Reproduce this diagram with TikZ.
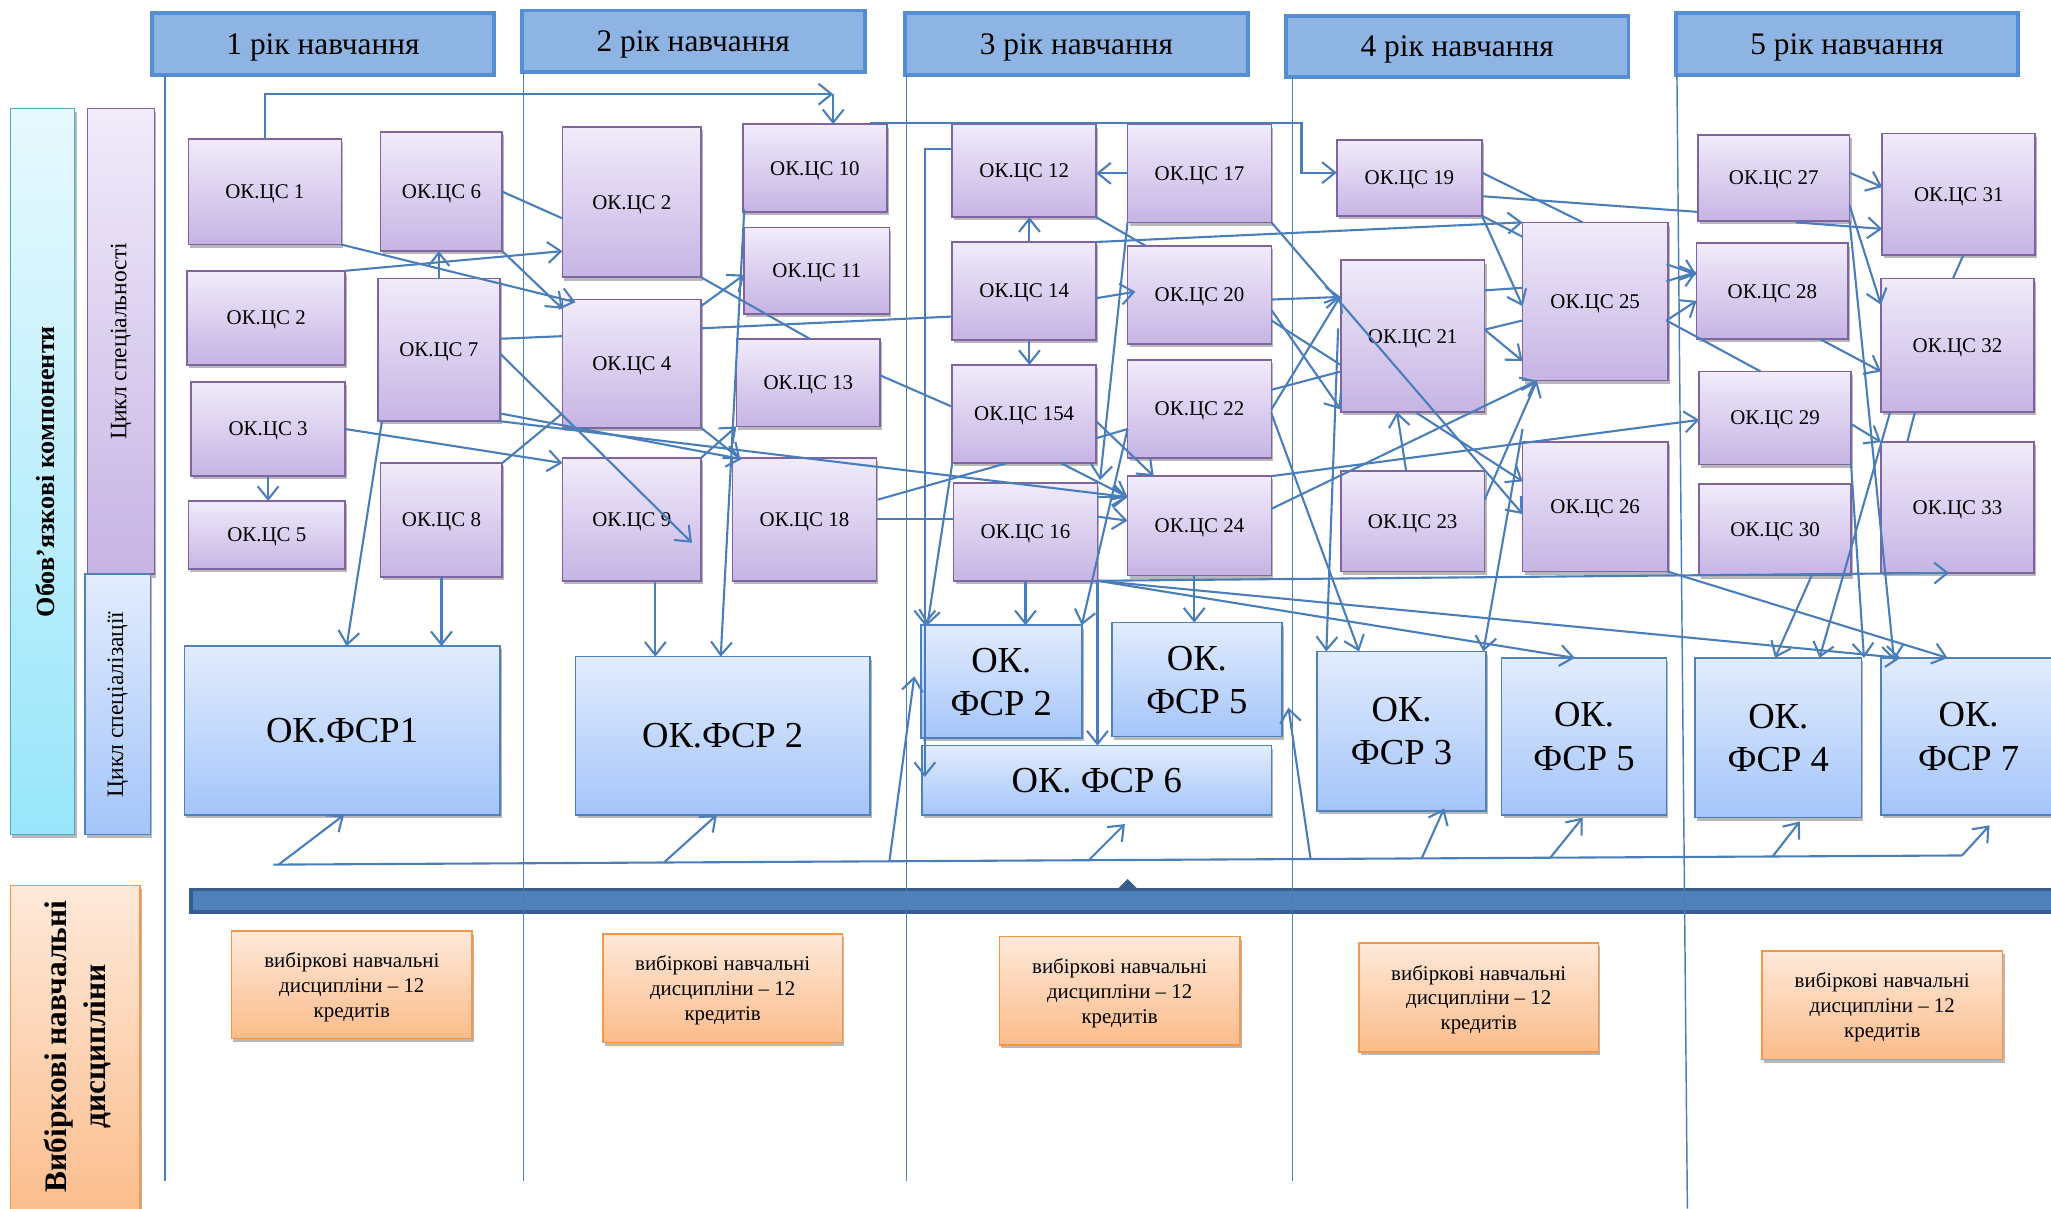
\documentclass[tikz,border=0pt]{standalone}
\usepackage{fontspec}
\setmainfont{Liberation Serif}
\usetikzlibrary{arrows.meta,shadows}
\definecolor{purTop}{RGB}{241,235,250}
\definecolor{purBot}{RGB}{198,180,228}
\definecolor{purB}{RGB}{128,100,162}
\definecolor{bluTop}{RGB}{226,236,253}
\definecolor{bluBot}{RGB}{164,197,250}
\definecolor{bluB}{RGB}{79,129,189}
\definecolor{orTop}{RGB}{254,233,218}
\definecolor{orBot}{RGB}{251,188,138}
\definecolor{orB}{RGB}{247,150,70}
\definecolor{cyTop}{RGB}{232,249,254}
\definecolor{cyBot}{RGB}{152,230,250}
\definecolor{cyB}{RGB}{75,172,198}
\definecolor{hdrF}{RGB}{142,180,227}
\definecolor{hdrB}{RGB}{85,142,213}
\definecolor{barF}{RGB}{79,129,189}
\definecolor{barB}{RGB}{56,93,138}
\definecolor{lnC}{RGB}{74,126,187}
\newcommand\mkbox[7]{\node[#1,minimum width={#5-#3},minimum height={#6-#4}] (#2) at ({(#3+#5)/2},{(#4+#6)/2}) {#7};}
\tikzset{
 shd/.style={drop shadow={shadow xshift=1.5pt,shadow yshift=-2.5pt,opacity=0.28,fill=black}},
 csbox/.style={shd,draw=purB,line width=1.3pt,top color=purTop,bottom color=purBot,inner sep=0pt,outer sep=0pt,text depth=0pt,font=\fontsize{16}{19}\selectfont},
 fsrbox/.style={shd,draw=bluB,line width=1.3pt,top color=bluTop,bottom color=bluBot,inner sep=0pt,outer sep=0pt,align=center,text depth=0pt,font=\fontsize{28}{33}\selectfont},
 hdrbox/.style={fill=hdrF,draw=hdrB,line width=3pt,inner sep=0pt,outer sep=0pt,text depth=0pt,font=\fontsize{24}{28}\selectfont},
 vybbox/.style={shd,draw=orB,line width=1.3pt,top color=orTop,bottom color=orBot,inner sep=0pt,outer sep=0pt,align=center,text depth=0pt,font=\fontsize{16}{19}\selectfont},
 cyanbox/.style={shd,draw=cyB,line width=1.3pt,top color=cyTop,bottom color=cyBot,inner sep=0pt,outer sep=0pt},
 barbox/.style={fill=barF,draw=barB,line width=3pt,inner sep=0pt,outer sep=0pt},
 conn/.style={draw=lnC,line width=1.6pt},
 arr/.style={conn,-{Straight Barb[length=10pt,width=16pt]}},
 sepline/.style={draw=lnC,line width=1.1pt},
}
\begin{document}
\begin{tikzpicture}[x=1pt,y=-1pt]
\useasboundingbox (0,0) rectangle (1568,924);
\fill[white] (0,0) rectangle (1568,924);
% headers
\mkbox{hdrbox}{h1}{116}{10}{378}{57}{1 рік навчання}
\mkbox{hdrbox}{h2}{399}{8}{661}{55}{2 рік навчання}
\mkbox{hdrbox}{h3}{692}{10}{954}{57}{3 рік навчання}
\mkbox{hdrbox}{h4}{983}{12}{1245}{59}{4 рік навчання}
\mkbox{hdrbox}{h5}{1281}{10}{1543}{57}{5 рік навчання}
% left labels
\mkbox{cyanbox}{lobov}{8}{83}{57}{638}{}
\mkbox{csbox}{lcs}{67}{83}{118}{439}{}
\mkbox{fsrbox}{lcz}{65}{439}{115}{638}{}
\mkbox{vybbox}{lvyb}{8}{677}{107}{935}{}
\node[rotate=90,font=\bfseries\fontsize{20}{24}\selectfont] (tobov) at ([xshift=2]lobov.center) {Обов’язкові компоненти};
\node[rotate=90,font=\fontsize{18}{22}\selectfont] (tcs) at (lcs.center) {Цикл спеціальності};
\node[rotate=90,font=\fontsize{18}{22}\selectfont] (tcz) at (lcz.center) {Цикл спеціалізації};
\node[rotate=90,align=center,font=\bfseries\fontsize{24}{30}\selectfont] (tvyb) at ([shift={(51,123)}]lvyb.north west) {Вибіркові навчальні\\дисципліни};
% bar
\mkbox{barbox}{bar}{146}{680}{1580}{697}{}
\fill[barB] ([shift={(707,1)}]bar.north west) -- ([shift={(716,-8)}]bar.north west) -- ([shift={(725,1)}]bar.north west) -- cycle;
% separators
\draw[sepline] ([xshift=10]h1.south west) -- ++(0,846);
\draw[sepline] ([xshift=1]h2.south west) -- ++(0,848);
\draw[sepline] ([xshift=1]h3.south west) -- ++(0,846);
\draw[sepline] ([xshift=5]h4.south west) -- ++(0,844);
\draw[sepline] ([xshift=1]h5.south west) -- ++(8,867);
% purple boxes
\mkbox{csbox}{c1}{144}{106}{261}{187}{ОК.ЦС 1}
\mkbox{csbox}{c6}{291}{101}{384}{192}{ОК.ЦС 6}
\mkbox{csbox}{c2}{143}{207}{264}{279}{ОК.ЦС 2}
\mkbox{csbox}{c7}{289}{213}{382}{322}{ОК.ЦС 7}
\mkbox{csbox}{c3}{146}{292}{264}{364}{ОК.ЦС 3}
\mkbox{csbox}{c5}{144}{383}{264}{435}{ОК.ЦС 5}
\mkbox{csbox}{c8}{291}{354}{384}{441}{ОК.ЦС 8}
\mkbox{csbox}{c2b}{430}{97}{536}{212}{ОК.ЦС 2}
\mkbox{csbox}{c4}{430}{229}{536}{327}{ОК.ЦС 4}
\mkbox{csbox}{c9}{430}{350}{536}{444}{ОК.ЦС 9}
\mkbox{csbox}{c10}{568}{95}{678}{162}{ОК.ЦС 10}
\mkbox{csbox}{c11}{569}{174}{680}{240}{ОК.ЦС 11}
\mkbox{csbox}{c13}{563}{259}{673}{326}{ОК.ЦС 13}
\mkbox{csbox}{c18}{560}{350}{670}{444}{ОК.ЦС 18}
\mkbox{csbox}{c12}{728}{95}{838}{166}{ОК.ЦС 12}
\mkbox{csbox}{c17}{862}{95}{972}{170}{ОК.ЦС 17}
\mkbox{csbox}{c14}{728}{185}{838}{260}{ОК.ЦС 14}
\mkbox{csbox}{c20}{862}{188}{972}{263}{ОК.ЦС 20}
\mkbox{csbox}{c154}{728}{279}{838}{354}{ОК.ЦС 154}
\mkbox{csbox}{c22}{862}{275}{972}{350}{ОК.ЦС 22}
\mkbox{csbox}{c16}{729}{369}{839}{444}{ОК.ЦС 16}
\mkbox{csbox}{c24}{862}{364}{972}{440}{ОК.ЦС 24}
\mkbox{csbox}{c19}{1022}{107}{1133}{165}{ОК.ЦС 19}
\mkbox{csbox}{c21}{1025}{199}{1135}{315}{ОК.ЦС 21}
\mkbox{csbox}{c23}{1025}{360}{1135}{437}{ОК.ЦС 23}
\mkbox{csbox}{c25}{1164}{170}{1275}{291}{ОК.ЦС 25}
\mkbox{csbox}{c26}{1164}{338}{1275}{437}{ОК.ЦС 26}
\mkbox{csbox}{c27}{1298}{103}{1414}{169}{ОК.ЦС 27}
\mkbox{csbox}{c28}{1297}{186}{1413}{259}{ОК.ЦС 28}
\mkbox{csbox}{c29}{1299}{284}{1415}{355}{ОК.ЦС 29}
\mkbox{csbox}{c30}{1299}{370}{1415}{440}{ОК.ЦС 30}
\mkbox{csbox}{c31}{1439}{102}{1556}{195}{ОК.ЦС 31}
\mkbox{csbox}{c32}{1438}{213}{1555}{315}{ОК.ЦС 32}
\mkbox{csbox}{c33}{1438}{338}{1555}{438}{ОК.ЦС 33}
% FSR boxes
\mkbox{fsrbox}{f1}{141}{494}{382}{623}{ОК.ФСР1}
\mkbox{fsrbox}{f2}{440}{502}{665}{623}{ОК.ФСР 2}
\mkbox{fsrbox}{f2c}{704}{478}{827}{564}{ОК.\\ФСР 2}
\mkbox{fsrbox}{f5c}{850}{476}{980}{563}{ОК.\\ФСР 5}
\mkbox{fsrbox}{f6}{705}{570}{972}{623}{ОК. ФСР 6}
\mkbox{fsrbox}{f3}{1007}{498}{1136}{620}{ОК.\\ФСР 3}
\mkbox{fsrbox}{f5d}{1148}{503}{1274}{623}{ОК.\\ФСР 5}
\mkbox{fsrbox}{f4}{1296}{503}{1423}{625}{ОК.\\ФСР 4}
\mkbox{fsrbox}{f7}{1438}{503}{1572}{623}{ОК.\\ФСР 7}
% orange boxes
\mkbox{vybbox}{o1}{177}{712}{361}{794}{вибіркові навчальні\\дисципліни – 12\\кредитів}
\mkbox{vybbox}{o2}{461}{714}{644}{797}{вибіркові навчальні\\дисципліни – 12\\кредитів}
\mkbox{vybbox}{o3}{764}{716}{948}{799}{вибіркові навчальні\\дисципліни – 12\\кредитів}
\mkbox{vybbox}{o4}{1039}{721}{1222}{804}{вибіркові навчальні\\дисципліни – 12\\кредитів}
\mkbox{vybbox}{o5}{1347}{727}{1531}{810}{вибіркові навчальні\\дисципліни – 12\\кредитів}
% ---- connectors, years 1-2
\draw[arr] (c1.north) |- ([shift={(69,-23)}]c10.north west);
\draw[arr] ([shift={(69,-23)}]c10.north west) -- ([shift={(69,0)}]c10.north west);
\draw[conn] (c6.east) -- ([shift={(0,70)}]c2b.north west);
\draw[arr] (c1.south east) -- ([shift={(10,2)}]c4.north west);
\draw[arr] (c2.north east) -- ([shift={(0,95)}]c2b.north west);
\draw[arr] (c7.north) -- (c7.north |- c6.south);
\draw[arr] (c6.south east) -- ([shift={(0,7)}]c4.north west);
\draw[conn] ([shift={(93,46)}]c7.north west) -- ([shift={(0,28)}]c4.north west);
\draw[conn] ([shift={(106,22)}]c4.north west) -- ([shift={(0,57)}]c14.north west);
\draw[arr] ([shift={(93,57)}]c7.north west) -- ([shift={(99,65)}]c9.north west);
\draw[arr] ([shift={(93,103)}]c7.north west) -- ([shift={(7,1)}]c18.north west);
\draw[arr] (c7.south east) -- ([shift={(0,16)}]c24.north west);
\draw[arr] (c3.east) -- ([shift={(0,4)}]c9.north west);
\draw[arr] (c3.south) -- (c3.south |- c5.north);
\draw[conn] (c8.north east) -- ([shift={(0,87)}]c4.north west);
\draw[arr] ([shift={(3,0)}]c7.south west) -- ([shift={(124,0)}]f1.north west);
\draw[arr] (c8.south) -- (c8.south |- f1.north);
\draw[arr] ([shift={(71,94)}]c9.north west) -- ([shift={(61,0)}]f2.north west);
\draw[arr] ([shift={(1,65)}]c10.north west) -- ([shift={(111,0)}]f2.north west);
\draw[arr] ([shift={(106,5)}]c4.north west) -- ([shift={(0,36)}]c11.north west);
\draw[conn] (c2b.south east) -- ([shift={(56,0)}]c13.north west);
\draw[arr] (c9.north east) -- (c13.south west);
\draw[arr] (c4.south east) -- ([shift={(6,1)}]c18.north west);
\draw[conn] ([shift={(110,28)}]c13.north west) -- ([shift={(0,32)}]c154.north west);
\draw[conn] ([shift={(111,32)}]c18.north west) -- ([shift={(42,75)}]c154.north west);
\draw[conn] (c18.east) -- (c18.east -| c16.west);
% ---- year 3
\draw[arr] ([shift={(97,-1)}]c10.north west) -- ++(330,0) |- ([shift={(0,25)}]c19.north west);
\draw[arr] ([shift={(0,19)}]c12.north west) -| ([shift={(3,0)}]f2c.north west);
\draw[arr] ([shift={(3,0)}]f2c.north west) -- ([shift={(2,24)}]f6.north west);
\draw[arr] (c154.south west) -- ([shift={(5,0)}]f2c.north west);
\draw[arr] (c17.west) -- (c17.west -| c12.east);
\draw[arr] ([xshift=4]c14.north) -- ([xshift=4]c12.south);
\draw[arr] ([xshift=4]c14.south) -- ([xshift=4]c154.north);
\draw[arr] ([shift={(110,43)}]c14.north west) -- ([shift={(6,35)}]c20.north west);
\draw[conn] (c12.south east) -- ([shift={(14,0)}]c20.north west);
\draw[arr] (c14.north east) -- (c25.north west);
\draw[arr] (c17.south west) -- ([shift={(2,-2)}]c16.north east);
\draw[arr] ([shift={(0,53)}]c22.north west) -- (f2c.north east);
\draw[conn] ([shift={(0,53)}]c22.north west) -- ([shift={(110,56)}]c154.north west);
\draw[arr] ([shift={(110,43)}]c154.north west) -- ([shift={(20,0)}]c24.north west);
\draw[arr] ([shift={(83,75)}]c154.north west) -- ([shift={(0,16)}]c24.north west);
\draw[arr] ([shift={(110,11)}]c16.north west) -- ([shift={(0,16)}]c24.north west);
\draw[arr] ([shift={(110,26)}]c16.north west) -- ([shift={(0,34)}]c24.north west);
\draw[arr] (c16.south) -- (c16.south |- f2c.north);
\draw[arr] ([xshift=-4]c24.south) -- ([xshift=-4]c24.south |- f5c.north);
\draw[arr] (c16.south east) -- (c16.south east |- f6.north);
\draw[arr] (c16.south east) -- ([shift={(52,0)}]c33.south west);
\draw[arr] (c16.south east) -- ([shift={(56,0)}]f5d.north west);
\draw[arr] (c16.south east) -- ([shift={(15,0)}]f7.north west);
% ---- year 4
\draw[arr] (c17.south east) -- ([shift={(0,55)}]c26.north west);
\draw[arr] ([shift={(110,41)}]c20.north west) -- ([shift={(0,28)}]c21.north west);
\draw[arr] ([shift={(110,49)}]c20.north west) -- ([shift={(0,114)}]c21.north west);
\draw[conn] ([shift={(110,57)}]c20.north west) -- ([shift={(0,80)}]c21.north west);
\draw[conn] ([shift={(110,23)}]c22.north west) -- ([shift={(0,85)}]c21.north west);
\draw[arr] ([shift={(110,38)}]c22.north west) -- ([shift={(0,27)}]c21.north west);
\draw[arr] ([shift={(110,41)}]c22.north west) -- ([shift={(32,0)}]f3.north west);
\draw[arr] ([shift={(-2,52)}]c21.north west) -- ([shift={(7,0)}]f3.north west);
\draw[arr] (c24.north east) -- ([shift={(0,37)}]c29.north west);
\draw[arr] ([shift={(110,25)}]c24.north west) -- ([shift={(11,0)}]c25.south west);
\draw[arr] ([shift={(50,0)}]c23.north west) -- ([shift={(43,0)}]c21.south west);
\draw[arr] ([shift={(110,22)}]c23.north west) -- ([shift={(11,0)}]c25.south west);
\draw[arr] ([shift={(0,-10)}]c26.north west) -- ([shift={(-2,0)}]f3.north east);
\draw[arr] ([xshift=2]c21.south) -- ([shift={(0,30)}]c26.north west);
\draw[conn] ([shift={(111,25)}]c19.north west) -- ([shift={(46,0)}]c25.north west);
\draw[conn] ([shift={(111,43)}]c19.north west) -- ([shift={(0,59)}]c27.north west);
\draw[arr] ([shift={(75,67)}]c27.north west) -- ([shift={(0,73)}]c31.north west);
\draw[arr] (c19.south east) -- ([shift={(0,64)}]c25.north west);
\draw[conn] (c19.south east) -- ([shift={(0,11)}]c25.north west);
\draw[conn] ([shift={(110,23)}]c21.north west) -- ([shift={(0,50)}]c25.north west);
\draw[conn] ([shift={(0,75)}]c25.north west) -- ([shift={(110,53)}]c21.north west);
\draw[arr] ([shift={(110,53)}]c21.north west) -- ([shift={(0,106)}]c25.north west);
% ---- year 5
\draw[arr] ([shift={(110,32)}]c25.north west) -- ([shift={(0,24)}]c28.north west);
\draw[arr] ([shift={(110,45)}]c25.north west) -- ([shift={(0,22)}]c28.north west);
\draw[arr] ([shift={(110,75)}]c25.north west) -- ([shift={(0,44)}]c28.north west);
\draw[conn] ([shift={(110,75)}]c25.north west) -- ([shift={(47,0)}]c29.north west);
\draw[arr] ([shift={(116,29)}]c27.north west) -- ([shift={(0,41)}]c31.north west);
\draw[arr] ([shift={(116,54)}]c27.north west) -- ([shift={(0,20)}]c32.north west);
\draw[arr] (c27.south east) -- ([shift={(10,2)}]f7.north west);
\draw[arr] ([shift={(94,73)}]c28.north west) -- ([shift={(0,71)}]c32.north west);
\draw[conn] ([shift={(62,93)}]c31.north west) -- ([shift={(55,0)}]c32.north west);
\draw[conn] ([shift={(26,102)}]c32.north west) -- ([shift={(20,0)}]c33.north west);
\draw[arr] ([shift={(116,40)}]c29.north west) -- (c33.north west);
\draw[arr] ([shift={(116,69)}]c29.north west) -- ([shift={(2,0)}]f4.north east);
\draw[arr] ([shift={(86,70)}]c30.north west) -- ([shift={(61,0)}]f4.north west);
\draw[arr] ([shift={(7,102)}]c32.north west) -- ([shift={(95,0)}]f4.north west);
\draw[arr] (c26.south east) -- ([shift={(51,0)}]f7.north west);
% ---- bottom feed line
\coordinate (bl) at (209,661);
\coordinate (br) at (1500,654);
\draw[conn] (bl) -- (br);
\draw[arr] (br) -- ([shift={(83,8)}]f7.south west);
\draw[arr] ([shift={(4,0)}]bl) -- ([shift={(122,0)}]f1.south west);
\draw[arr] ([shift={(299,-2)}]bl) -- ([shift={(108,0)}]f2.south west);
\draw[arr] ([shift={(471,-3)}]bl) -- ([shift={(-5,39)}]f2c.north west);
\draw[arr] ([shift={(623,-3)}]bl) -- ([shift={(155,7)}]f6.south west);
\draw[arr] ([shift={(793,-4)}]bl) -- ([shift={(5,65)}]f5c.north east);
\draw[arr] ([shift={(878,-5)}]bl) -- ([shift={(97,-2)}]f3.south west);
\draw[arr] ([shift={(976,-5)}]bl) -- ([shift={(62,2)}]f5d.south west);
\draw[arr] ([shift={(1146,-6)}]bl) -- ([shift={(80,3)}]f4.south west);
\end{tikzpicture}
\end{document}
